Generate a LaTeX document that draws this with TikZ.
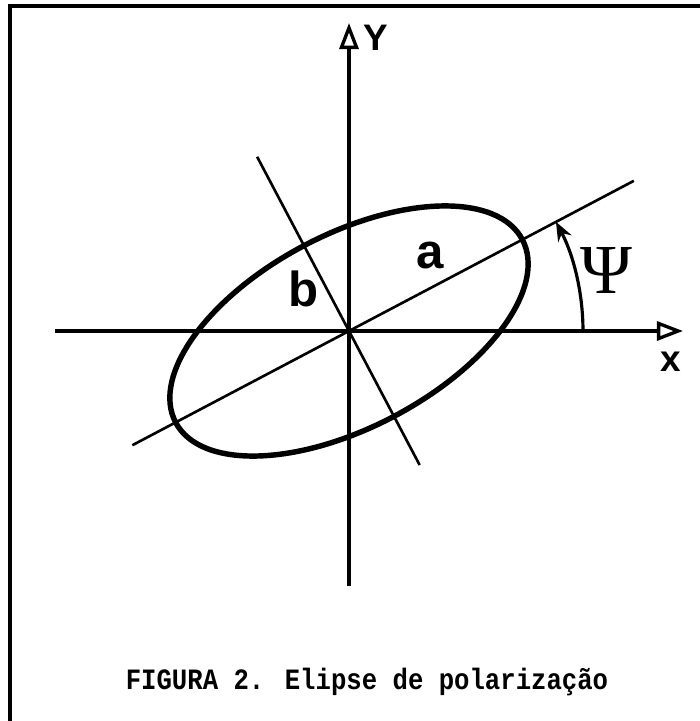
\documentclass[tikz,border=0pt]{standalone}
\usepackage{fontspec}
\usepackage{tikz}
\usetikzlibrary{arrows.meta,positioning}
\newfontfamily\lblfont{Liberation Sans}
\newfontfamily\capfont{Liberation Mono}
\newfontfamily\psifont{Liberation Serif}
\definecolor{inkblack}{RGB}{0,0,0}

\begin{document}
\begin{tikzpicture}[
frame/.style={line width=1.8pt, draw=inkblack},
axis/.style={line width=1.9pt, draw=inkblack, -{Triangle[open, length=5.2mm, width=3.8mm]}},
semiaxis/.style={line width=1.5pt, draw=inkblack},
ellipseline/.style={line width=3.1pt, draw=inkblack},
anglearrow/.style={line width=1.8pt, draw=inkblack, -{Stealth[length=3.8mm, width=3mm]}},
lbl/.style={inner sep=0pt, font=\lblfont\bfseries\fontsize{21}{24}\selectfont},
letter/.style={inner sep=0pt, font=\lblfont\bfseries\fontsize{28}{32}\selectfont},
caption/.style={inner sep=0pt, anchor=base, font=\capfont\bfseries\fontsize{14.6}{17}\selectfont}
]
\useasboundingbox (-6.98,-7.8) rectangle (7.02,6.62);
\coordinate (O) at (0,0);
\coordinate (xstart) at (-5.88,0);
\coordinate (xend) at (6.68,0);
\coordinate (ystart) at (0,-5.1);
\coordinate (yend) at (0,6.16);
\coordinate (majorlow) at (207.8:4.9);
\coordinate (majorhigh) at (27.8:6.44);
\coordinate (minorhigh) at (117.8:3.94);
\coordinate (minorlow) at (-62.2:3.03);
\draw[frame] (7.02,6.5) -- (-6.78,6.5) -- (-6.78,-7.8);
\draw[axis] (xstart) -- (xend);
\draw[axis] (ystart) -- (yend);
\draw[semiaxis] (majorlow) -- (majorhigh);
\draw[semiaxis] (minorhigh) -- (minorlow);
\draw[ellipseline, rotate=27.8] (O) ellipse [x radius=3.92, y radius=1.93];
\draw[anglearrow] (4.68,0) arc [start angle=0, end angle=27.8, radius=4.68];
\node[lbl] (ylabel) at (0.54,5.86) {Y};
\node[lbl] (xlabel) at (6.43,-0.61) {x};
\node[letter] (alabel) at (1.62,1.52) {a};
\node[letter] (blabel) at (-0.9,0.85) {b};
\node[inner sep=0pt, font=\psifont\fontsize{40}{44}\selectfont] (psilabel) at (5.14,1.22) {Ψ};
\node[caption] (title) at (0.36,-7.16) {\scalebox{1}[1.15]{FIGURA 2. Elipse de polarização}};
\end{tikzpicture}
\end{document}
